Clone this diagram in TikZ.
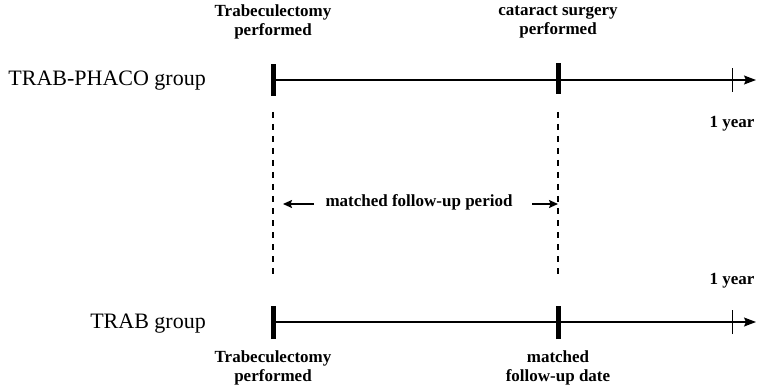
\documentclass[tikz,border=0pt]{standalone}
\usepackage{fontspec}
\setmainfont{Liberation Serif}
\usetikzlibrary{arrows.meta}
\begin{document}
\begin{tikzpicture}[x=1pt,y=-1pt,
  lbl/.style={font=\fontsize{17}{19}\selectfont\bfseries, align=center, inner sep=0pt},
  grp/.style={font=\fontsize{22}{24}\selectfont, inner sep=0pt, anchor=base east},
  axis/.style={line width=1.4pt, -{Stealth[length=12pt,width=9pt,inset=2pt]}},
  barmark/.style={line width=5pt},
  tickmark/.style={line width=0.9pt},
  guide/.style={line width=1.2pt, dash pattern=on 6pt off 6pt},
  span/.style={line width=1.5pt, -{Stealth[length=9pt,width=8pt,inset=1.5pt]}}]
\useasboundingbox (0,0) rectangle (757,390);
% ---- top timeline (TRAB-PHACO)
\coordinate (a0) at (273,80);
\coordinate (a1) at (558,80);
\coordinate (ay) at (732,80);
\coordinate (aend) at (756,80);
\draw[axis] (a0) -- (aend);
\draw[barmark] ([yshift=-16pt]a0) -- ([yshift=16pt]a0);
\draw[barmark] ([yshift=-14pt]a1) -- ([yshift=17pt]a1);
\draw[tickmark] ([yshift=-12pt]ay) -- ([yshift=12pt]ay);
\node[grp] (g1) at (206,86) {TRAB-PHACO group};
\node[lbl] (l1) at (273,22) {Trabeculectomy\\performed};
\node[lbl] (l2) at (558,22) {cataract surgery\\performed};
\node[lbl, anchor=base] (y1) at (732,128) {1 year};
% ---- dashed guides
\coordinate (d0t) at (273,112);
\coordinate (d0b) at (273,278);
\coordinate (d1t) at (558,112);
\coordinate (d1b) at (558,278);
\draw[guide] (d0t) -- (d0b);
\draw[guide] (d1t) -- (d1b);
% ---- matched follow-up period
\node[lbl, anchor=base] (mp) at (419,207) {matched follow-up period};
\coordinate (mpl) at (314,204);
\coordinate (mplt) at (283,204);
\coordinate (mpr) at (532,204);
\coordinate (mprt) at (558,204);
\draw[span] (mpl) -- (mplt);
\draw[span] (mpr) -- (mprt);
% ---- bottom timeline (TRAB)
\coordinate (b0) at (273,322);
\coordinate (b1) at (558,322);
\coordinate (by) at (732,322);
\coordinate (bend) at (756,322);
\draw[axis] (b0) -- (bend);
\draw[barmark] ([yshift=-17pt]b0) -- ([yshift=16pt]b0);
\draw[barmark] ([yshift=-17pt]b1) -- ([yshift=16pt]b1);
\draw[tickmark] ([yshift=-12pt]by) -- ([yshift=12pt]by);
\node[grp] (g2) at (206,328) {TRAB group};
\node[lbl, anchor=base] (y2) at (732,284) {1 year};
\node[lbl] (l3) at (273,368) {Trabeculectomy\\performed};
\node[lbl] (l4) at (558,368) {matched\\follow-up date};
\end{tikzpicture}
\end{document}
